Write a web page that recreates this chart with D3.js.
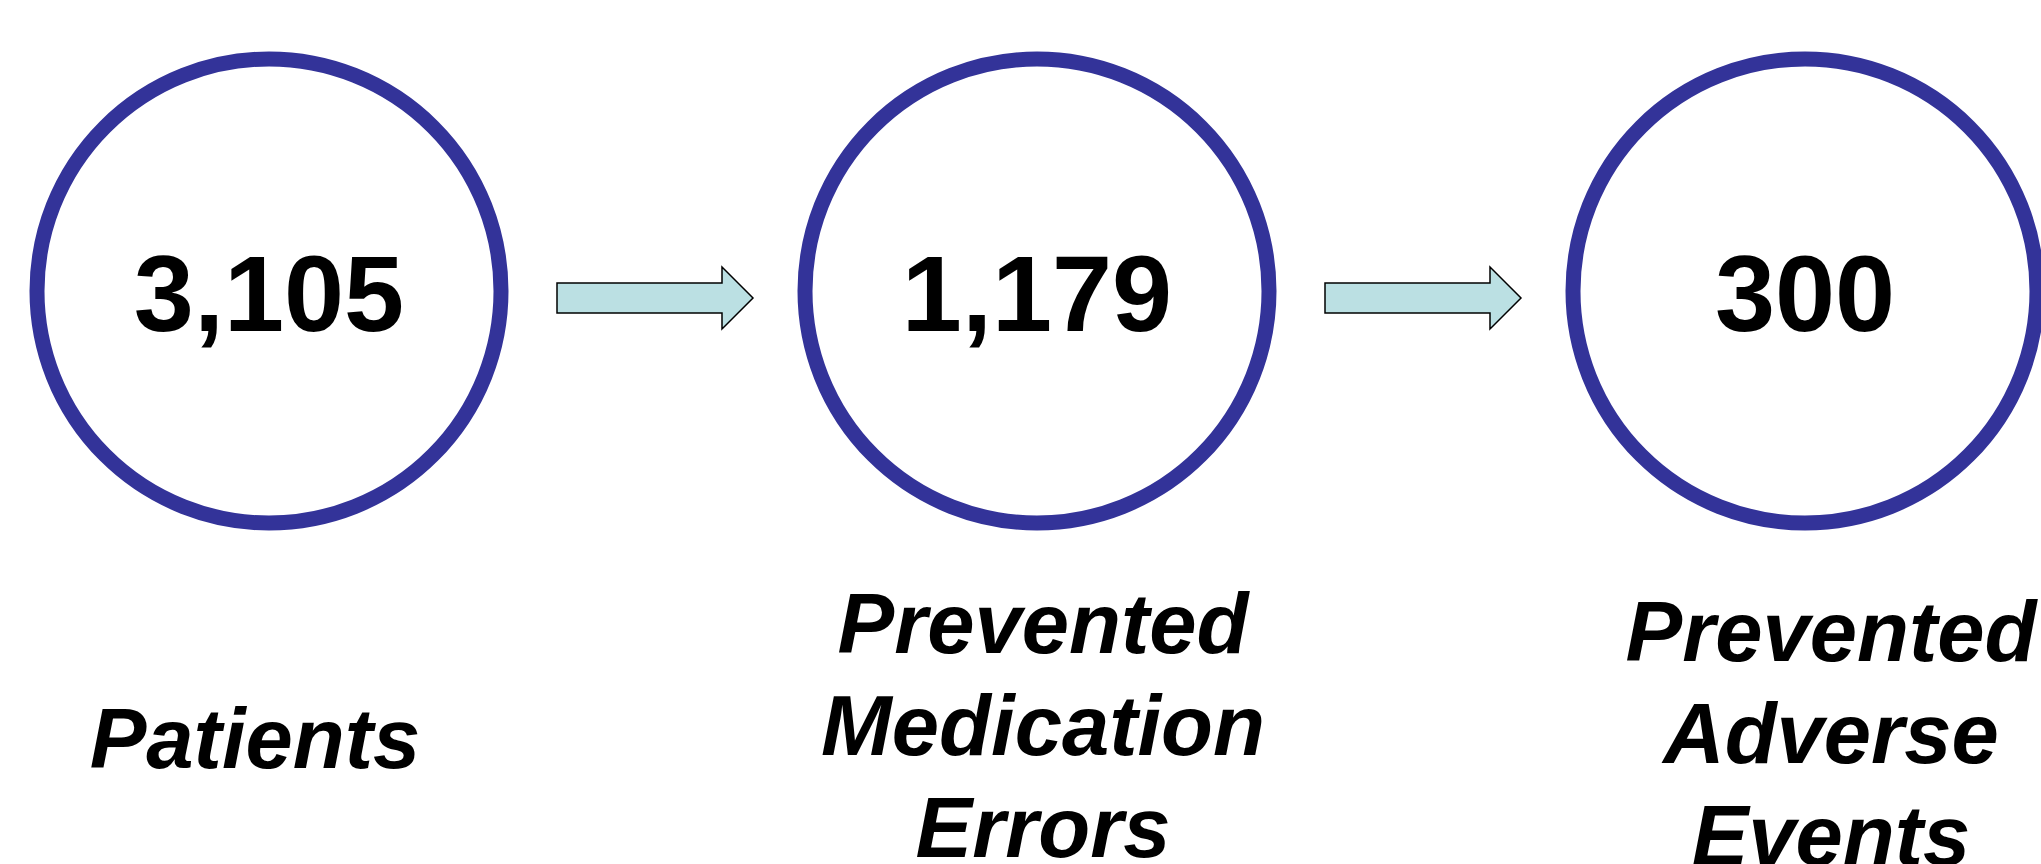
<!DOCTYPE html>
<html>
<head>
<meta charset="utf-8">
<script src="https://cdn.jsdelivr.net/npm/d3@7"></script>
<style>
    html, body { margin: 0; padding: 0; background: #ffffff; overflow: hidden; }
    text { font-family: "Liberation Sans", Arial, sans-serif; font-weight: bold; fill: #000000; }
</style>
</head>
<body>
<div id="chart"></div>
<script>
// DATA
var stageKeys = ["patients", "errors", "events"];
var stageValues = [3105, 1179, 300];
var stageLabels = [
    ["Patients"],
    ["Prevented", "Medication", "Errors"],
    ["Prevented", "Adverse", "Events"]
];

// LAYOUT
var svgWidth = 2041;
var svgHeight = 864;
var cy = 291;            // circle centre line
var r = 232;             // radius to middle of ring
var ring = 15;           // ring thickness
var labelMid = [768, 755, 763];  // baseline of the middle label line
var lineHeight = 102;

var svg = d3.select("#chart")
    .append("svg")
    .attr("width", svgWidth)
    .attr("height", svgHeight);

// x positions of the circles and of the text blocks
var xCircle = d3.scalePoint()
    .domain(stageKeys)
    .range([269, 1805]);
var xLabel = d3.scalePoint()
    .domain(stageKeys)
    .range([255, 1831]);

var fmt = d3.format(",");

// circles
svg.selectAll("circle.stage")
    .data(stageKeys)
    .enter()
    .append("circle")
    .attr("class", "stage")
    .attr("cx", d => xCircle(d))
    .attr("cy", cy)
    .attr("r", r)
    .attr("fill", "#ffffff")
    .attr("stroke", "#333399")
    .attr("stroke-width", ring);

// numbers inside the circles
svg.selectAll("text.value")
    .data(stageValues)
    .enter()
    .append("text")
    .attr("class", "value")
    .attr("x", (d, i) => xCircle(stageKeys[i]))
    .attr("y", 331)
    .attr("text-anchor", "middle")
    .attr("font-size", 108)
    .text(d => fmt(d));

// arrows between consecutive stages
var pairs = d3.pairs(stageKeys);
var arrowLen = 196, shaftH = 30, headH = 62, headLen = 31;
var ay = cy + 7;

svg.selectAll("path.arrow")
    .data(pairs)
    .enter()
    .append("path")
    .attr("class", "arrow")
    .attr("d", function (p) {
        var mid = (xCircle(p[0]) + xCircle(p[1])) / 2 + 2;
        var x0 = mid - arrowLen / 2;
        var x1 = mid + arrowLen / 2;
        var xb = x1 - headLen;
        return "M" + x0 + "," + (ay - shaftH / 2) +
            "L" + xb + "," + (ay - shaftH / 2) +
            "L" + xb + "," + (ay - headH / 2) +
            "L" + x1 + "," + ay +
            "L" + xb + "," + (ay + headH / 2) +
            "L" + xb + "," + (ay + shaftH / 2) +
            "L" + x0 + "," + (ay + shaftH / 2) + "Z";
    })
    .attr("fill", "#bbe0e3")
    .attr("stroke", "#000000")
    .attr("stroke-width", 1.5);

// labels under the circles
var labelGroups = svg.selectAll("text.label")
    .data(stageLabels)
    .enter()
    .append("text")
    .attr("class", "label")
    .attr("text-anchor", "middle")
    .attr("font-size", 85)
    .attr("font-style", "italic");

labelGroups.each(function (lines, i) {
    var first = labelMid[i] - (lines.length - 1) / 2 * lineHeight;
    d3.select(this).selectAll("tspan")
        .data(lines)
        .enter()
        .append("tspan")
        .attr("x", xLabel(stageKeys[i]))
        .attr("y", (d, j) => first + j * lineHeight)
        .text(d => d);
});
</script>
</body>
</html>
